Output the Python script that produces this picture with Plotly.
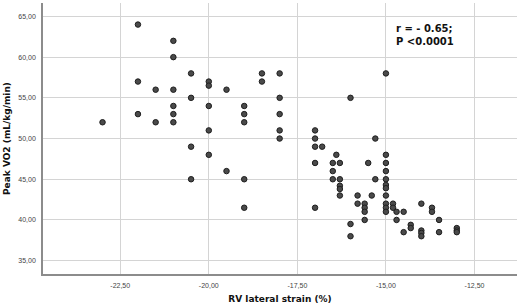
import plotly.graph_objects as go

# RV lateral strain (%) and Peak VO2 (mL/kg/min)
strain = [
    -23.0,
    -22.0, -22.0, -22.0,
    -21.5, -21.5,
    -21.0, -21.0, -21.0, -21.0, -21.0, -21.0,
    -20.5, -20.5, -20.5, -20.5,
    -20.0, -20.0, -20.0, -20.0, -20.0,
    -19.5, -19.5,
    -19.0, -19.0, -19.0, -19.0, -19.0,
    -18.5, -18.5,
    -18.0, -18.0, -18.0, -18.0, -18.0,
    -17.0, -17.0, -17.0, -17.0, -17.0,
    -16.8,
    -16.4,
    -16.5, -16.5, -16.5,
    -16.3, -16.3, -16.3, -16.3, -16.3,
    -16.0, -16.0, -16.0,
    -15.8, -15.8,
    -15.6, -15.6, -15.6, -15.6,
    -15.5,
    -15.4,
    -15.3, -15.3,
    -15.0, -15.0, -15.0, -15.0, -15.0, -15.0, -15.0, -15.0, -15.0, -15.0, -15.0,
    -14.8, -14.8,
    -14.7, -14.7,
    -14.5, -14.5,
    -14.3, -14.3,
    -14.0, -14.0, -14.0, -14.0,
    -13.7, -13.7,
    -13.5, -13.5,
    -13.0, -13.0, -13.0,
]
peak_vo2 = [
    52.0,
    64.0, 57.0, 53.0,
    56.0, 52.0,
    62.0, 60.0, 56.0, 54.0, 53.0, 52.0,
    58.0, 55.0, 49.0, 45.0,
    57.0, 56.5, 54.0, 51.0, 48.0,
    56.0, 46.0,
    54.0, 53.0, 52.0, 45.0, 41.5,
    58.0, 57.0,
    58.0, 55.0, 53.0, 51.0, 50.0,
    51.0, 50.0, 49.0, 47.0, 41.5,
    49.0,
    48.0,
    47.0, 46.0, 45.0,
    47.0, 45.0, 44.2, 43.8, 43.0,
    55.0, 39.5, 38.0,
    43.0, 42.0,
    42.0, 41.5, 41.0, 40.0,
    47.0,
    43.0,
    50.0, 45.0,
    58.0, 48.0, 47.0, 46.0, 45.0, 44.3, 43.9, 43.0, 42.0, 41.5, 41.0,
    42.0, 41.5,
    41.0, 40.0,
    41.0, 38.5,
    39.4, 39.0,
    42.0, 38.7, 38.4, 38.0,
    41.5, 41.0,
    40.0, 38.5,
    39.0, 38.7, 38.5,
]

x_ticks = [-22.5, -20.0, -17.5, -15.0, -12.5]
x_tick_labels = ["-22,50", "-20,00", "-17,50", "-15,00", "-12,50"]
y_ticks = [35, 40, 45, 50, 55, 60, 65]
y_tick_labels = ["35,00", "40,00", "45,00", "50,00", "55,00", "60,00", "65,00"]

annotation_text = "r = - 0.65;<br>P <0.0001"

fig = go.Figure()
fig.add_trace(go.Scatter(
    x=strain, y=peak_vo2, mode="markers",
    marker=dict(size=5.5, color="#4a4a4a", line=dict(color="#1e1e1e", width=1)),
    showlegend=False, hoverinfo="skip",
))

fig.add_annotation(
    x=-14.78, y=64.5, xref="x", yref="y", xanchor="left", yanchor="top",
    text="<b>" + annotation_text + "</b>", showarrow=False, align="left",
    font=dict(family="DejaVu Sans", size=10, color="#111111"),
)

axis_font = dict(family="Liberation Sans", size=7, color="#444444")
title_font = dict(family="DejaVu Sans", size=9, color="#111111")

fig.update_layout(
    width=520, height=307,
    margin=dict(l=43, r=3, t=3, b=33),
    paper_bgcolor="white", plot_bgcolor="white",
    xaxis=dict(
        range=[-24.68, -11.3], tickvals=x_ticks, ticktext=x_tick_labels,
        showgrid=True, gridcolor="#d4d4d4", gridwidth=1,
        showline=True, linecolor="#8c8c8c", linewidth=1.5,
        zeroline=False, ticks="outside", ticklen=4, tickcolor="rgba(0,0,0,0)",
        tickfont=axis_font,
        title=dict(text="<b>RV lateral strain (%)</b>", font=title_font, standoff=8),
    ),
    yaxis=dict(
        range=[33.36, 66.65], tickvals=y_ticks, ticktext=y_tick_labels,
        showgrid=True, gridcolor="#d4d4d4", gridwidth=1,
        showline=True, linecolor="#8c8c8c", linewidth=1.5,
        zeroline=False, ticks="outside", ticklen=4, tickcolor="rgba(0,0,0,0)",
        tickfont=axis_font,
        title=dict(text="<b>Peak VO2 (mL/kg/min)</b>", font=title_font, standoff=6),
    ),
)

fig.write_html("out.html")
